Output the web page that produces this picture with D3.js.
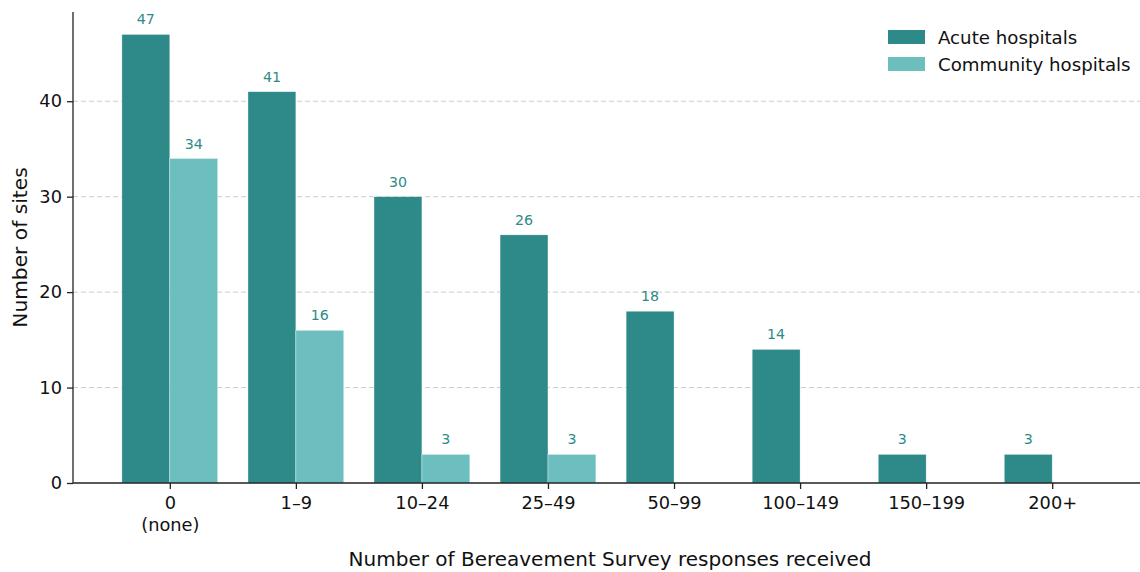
<!DOCTYPE html>
<html>
<head>
<meta charset="utf-8">
<script src="https://cdn.jsdelivr.net/npm/d3@7/dist/d3.min.js"></script>
<style>
html,body{margin:0;padding:0;background:#fff;}
text{font-family:"DejaVu Sans",sans-serif;}
</style>
</head>
<body>
<svg id="chart" width="1140" height="572"></svg>
<script>
const categories = ["0\n(none)", "1–9", "10–24", "25–49", "50–99", "100–149", "150–199", "200+"];
const acuteValues = [47, 41, 30, 26, 18, 14, 3, 3];
const communityValues = [34, 16, 3, 3, 0, 0, 0, 0];
const seriesNames = ["Acute hospitals", "Community hospitals"];
const yTicks = [0, 10, 20, 30, 40];

const colors = ["#2e8a89", "#6dbebe"];
const labelColor = "#2e8a89";

const svg = d3.select("#chart");
const pLeft = 73, pRight = 1149, pTop = 12, pBottom = 483;
const barW = 0.38;

const x = d3.scaleLinear().domain([-0.768, 7.768]).range([pLeft, pRight]);
const y = d3.scaleLinear().domain([0, 49.35]).range([pBottom, pTop]);

// grid
svg.append("g").selectAll("line").data(yTicks.filter(d => d > 0)).join("line")
  .attr("x1", pLeft).attr("x2", 1140)
  .attr("y1", d => y(d)).attr("y2", d => y(d))
  .attr("stroke", "#cccccc").attr("stroke-width", 1).attr("stroke-dasharray", "5,3");

const series = [acuteValues, communityValues];
series.forEach((vals, si) => {
  const off = si === 0 ? -barW / 2 : barW / 2;
  const data = vals.map((v, i) => ({v, i})).filter(d => d.v > 0);
  const g = svg.append("g");
  g.selectAll("rect").data(data).join("rect")
    .attr("x", d => x(d.i + off - barW / 2))
    .attr("width", d => x(d.i + off + barW / 2) - x(d.i + off - barW / 2))
    .attr("y", d => y(d.v))
    .attr("height", d => y(0) - y(d.v))
    .attr("fill", colors[si])
    .attr("stroke", "#ffffff").attr("stroke-width", 0.5).attr("stroke-opacity", 0.7);
  g.selectAll("text").data(data).join("text")
    .attr("x", d => x(d.i + off))
    .attr("y", d => y(d.v) - 10)
    .attr("text-anchor", "middle")
    .attr("font-size", 14.2)
    .attr("fill", labelColor)
    .text(d => d.v);
});

// y axis
const yAxis = d3.axisLeft(y).tickValues(yTicks).tickSize(6).tickPadding(5).tickFormat(d3.format("d"));
const gy = svg.append("g").attr("transform", `translate(${pLeft},0)`).call(yAxis);
gy.select(".domain").attr("d", `M0,${pTop}V${pBottom}`).attr("stroke", "#222").attr("stroke-width", 1.3);
gy.selectAll(".tick line").attr("stroke", "#222").attr("stroke-width", 1.3);
gy.selectAll(".tick text").attr("font-size", 17.8).attr("fill", "#111").attr("font-family", "DejaVu Sans");

// x axis
const xAxis = d3.axisBottom(x).tickValues(d3.range(categories.length)).tickSize(6).tickPadding(5).tickFormat(() => "");
const gx = svg.append("g").attr("transform", `translate(0,${pBottom})`).call(xAxis);
gx.select(".domain").attr("d", `M${pLeft},0H1140`).attr("stroke", "#222").attr("stroke-width", 1.3);
gx.selectAll(".tick line").attr("stroke", "#222").attr("stroke-width", 1.3);
gx.selectAll(".tick text").each(function(d) {
  const lines = categories[d].split("\n");
  const t = d3.select(this).attr("font-size", 17.8).attr("fill", "#111").attr("font-family", "DejaVu Sans").attr("dy", null).attr("y", 0);
  lines.forEach((l, k) => {
    t.append("tspan").attr("x", 0).attr("y", 26 + k * 22).text(l);
  });
});

// axis labels
svg.append("text").attr("x", 610).attr("y", 566).attr("text-anchor", "middle")
  .attr("font-size", 20).attr("fill", "#111").text("Number of Bereavement Survey responses received");
svg.append("text").attr("transform", `translate(27,${(pTop + pBottom) / 2}) rotate(-90)`)
  .attr("text-anchor", "middle").attr("font-size", 20.2).attr("fill", "#111").text("Number of sites");

// legend
const lg = svg.append("g");
seriesNames.forEach((n, i) => {
  lg.append("rect").attr("x", 888).attr("y", 30 + i * 27).attr("width", 37).attr("height", 14).attr("fill", colors[i]);
  lg.append("text").attr("x", 938).attr("y", 44 + i * 27).attr("font-size", 18.2).attr("fill", "#111").text(n);
});
</script>
</body>
</html>
